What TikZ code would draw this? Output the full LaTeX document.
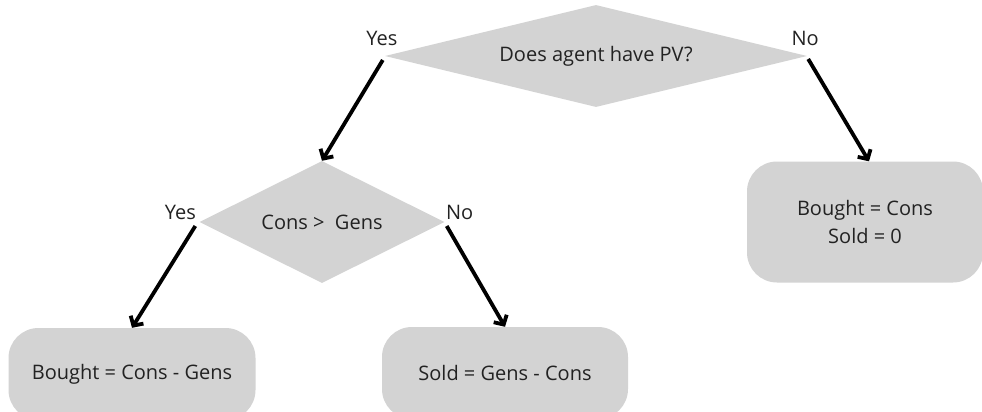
\documentclass[tikz,border=0pt]{standalone}
\usepackage{fontspec}
\setmainfont{Open Sans}
\usetikzlibrary{shapes.geometric,arrows.meta,positioning}
\definecolor{boxgray}{RGB}{211,211,211}
\definecolor{inkgray}{RGB}{34,34,34}

\begin{document}
\begin{tikzpicture}[x=1pt,y=-1pt,
    decision/.style n args={3}{diamond,fill=boxgray,inner sep=0pt,shape aspect=#3,
      minimum width=#1,minimum height=#2,text=inkgray,font=\fontsize{20}{24}\selectfont},
    result/.style={rectangle,fill=boxgray,rounded corners=30pt,align=center,
      text=inkgray,font=\fontsize{20}{28}\selectfont},
    lbl/.style={text=inkgray,font=\fontsize{20}{24}\selectfont},
    flow/.style={line width=3.8pt,-{Straight Barb[length=7pt,width=15pt]}}]
  \useasboundingbox (0,0) rectangle (982,412);

  % questions
  \node[decision={422pt}{102pt}{4.1}] (pv) at (596,56) {Does agent have PV?};
  \node[decision={245pt}{122pt}{2}] (cg) at (322,222) {Cons >\ \ Gens};

  % outcomes
  \node[result,minimum width=247pt,minimum height=92pt] (buy) at (132,374) {Bought = Cons - Gens};
  \node[result,minimum width=246pt,minimum height=92pt] (sell) at (505,373) {Sold = Gens - Cons};
  \node[result,minimum width=236pt,minimum height=121pt] (nopv) at (865,222) {Bought = Cons\\Sold = 0};

  % branch labels
  \node[lbl] (pvyes) at ([shift={(-3,-18)}]pv.west) {Yes};
  \node[lbl] (pvno) at ([shift={(-2,-18)}]pv.east) {No};
  \node[lbl] (cgyes) at ([shift={(-19,-10)}]cg.west) {Yes};
  \node[lbl] (cgno) at ([shift={(15,-10)}]cg.east) {No};

  % connectors
  \draw[flow] ([shift={(-2,4)}]pv.west) -- (cg.north);
  \draw[flow] ([shift={(1,3)}]pv.east) -- ([xshift=4pt]nopv.north);
  \draw[flow] ([shift={(-4,4)}]cg.west) -- (buy.north);
  \draw[flow] ([shift={(2,4)}]cg.east) -- (sell.north);
\end{tikzpicture}
\end{document}
